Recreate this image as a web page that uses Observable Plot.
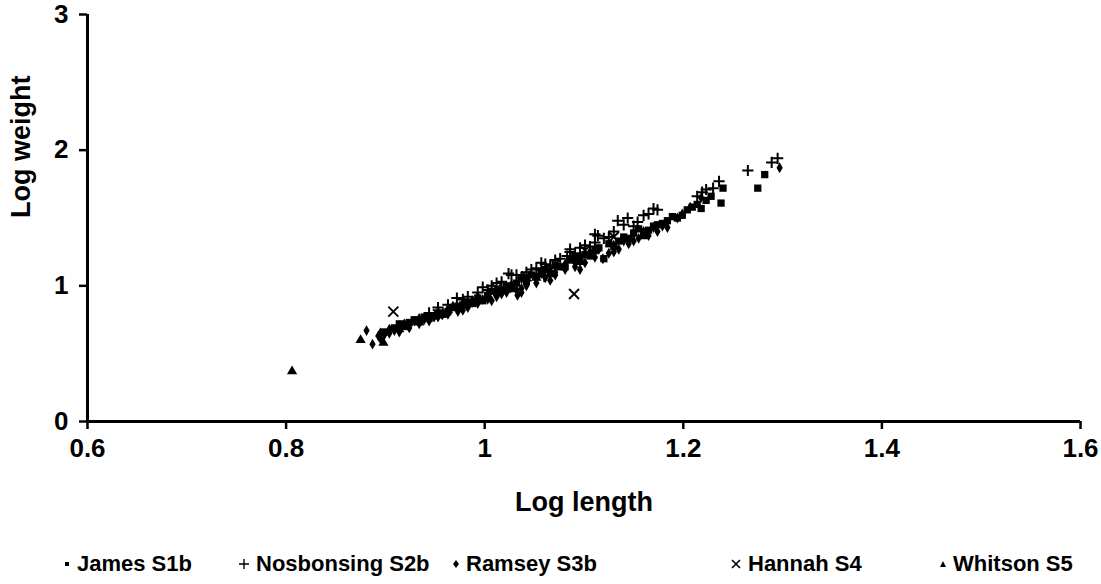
<!DOCTYPE html>
<html>
<head>
<meta charset="utf-8">
<script src="https://cdn.jsdelivr.net/npm/d3@7"></script>
<script src="https://cdn.jsdelivr.net/npm/@observablehq/plot@0.6"></script>
<style>
  html, body { margin: 0; padding: 0; background: #fff; }
  #wrap { position: relative; width: 1101px; height: 584px; font-family: "Liberation Sans", Arial, sans-serif; }
  #legend { position: absolute; left: 0; top: 540px; width: 1101px; height: 44px; }
  .item { position: absolute; top: 11px; font-size: 22px; font-weight: bold; color: #000; white-space: nowrap; display: flex; align-items: center; }
  .item svg { margin-right: 6px; }
</style>
</head>
<body>
<div id="wrap"><div id="chart"></div><div id="legend"></div></div>
<script>
// ---- data (log length, log weight) ----
const seriesNames = ["James S1b", "Nosbonsing S2b", "Ramsey S3b", "Hannah S4", "Whitson S5"];

const jamesX = [0.899,0.909,0.919,0.924,0.934,0.939,0.949,0.953,0.958,0.968,0.973,0.983,0.988,0.993,1.003,1.007,1.017,1.022,1.032,1.037,1.047,1.052,1.061,1.071,1.076,1.086,1.091,1.101,1.111,1.120,1.125,1.135,1.140,1.150,1.155,1.165,1.174,1.184,1.189,1.194,1.204,1.209,1.214,1.223,1.228,1.238,1.240,1.275,1.282,
  0.914,0.929,0.944,0.963,0.978,0.998,1.012,1.027,1.042,1.057,1.066,1.081,1.096,1.106,1.115,1.130,1.145,1.160,1.170,1.179,1.199,1.218];
const jamesY = [0.66,0.69,0.70,0.73,0.74,0.77,0.78,0.80,0.79,0.84,0.85,0.88,0.87,0.91,0.93,0.96,0.97,1.00,1.02,1.06,1.08,1.07,1.12,1.15,1.14,1.19,1.21,1.23,1.26,1.20,1.31,1.33,1.36,1.39,1.42,1.41,1.45,1.48,1.51,1.50,1.56,1.58,1.60,1.63,1.66,1.61,1.72,1.72,1.82,
  0.72,0.75,0.76,0.81,0.86,0.89,0.95,0.98,1.03,1.10,1.09,1.14,1.18,1.22,1.28,1.29,1.35,1.37,1.44,1.46,1.52,1.57];

const nosX = [0.944,0.963,0.972,0.978,0.993,1.003,1.012,1.024,1.032,1.042,1.052,1.060,1.061,1.071,1.083,1.086,1.096,1.101,1.111,1.114,1.120,1.130,1.134,1.140,1.144,1.154,1.160,1.165,1.170,1.174,1.214,1.219,1.223,1.230,1.236,1.265,1.289,1.295,
  0.953,0.983,1.007,1.017,1.037,1.047,1.066,1.076,1.091,1.106,1.125,1.150,
  0.998,1.027,1.057,1.086,1.111];
const nosY = [0.80,0.86,0.91,0.90,0.95,0.97,1.02,1.09,1.08,1.10,1.13,1.07,1.16,1.19,1.22,1.25,1.28,1.30,1.32,1.37,1.35,1.40,1.48,1.45,1.50,1.47,1.52,1.53,1.57,1.56,1.66,1.69,1.71,1.72,1.77,1.85,1.91,1.94,
  0.84,0.92,1.00,1.03,1.06,1.12,1.15,1.20,1.24,1.29,1.36,1.44,
  0.99,1.08,1.17,1.27,1.38];

const ramX = [0.881,0.887,0.893,0.899,0.904,0.909,0.914,0.919,0.924,0.929,0.934,0.939,0.944,0.949,0.953,0.958,0.963,0.968,0.973,0.978,0.983,0.988,0.993,0.998,1.003,1.012,1.017,1.022,1.027,1.033,1.037,1.042,1.052,1.057,1.066,1.071,1.081,1.091,1.096,1.106,1.115,1.119,1.130,1.140,1.150,1.160,1.170,1.179,1.194,1.199,1.207,1.218,1.297,
  0.895,0.904,0.914,0.924,0.934,0.944,0.953,0.963,0.973,0.983,0.993,1.003,1.012,1.022,1.032,1.042,1.052,1.061,1.071,1.081,1.091,1.101,1.111,1.125,1.135,1.145,1.155,1.165,1.174,1.184,
  0.978,1.007,1.037,1.066,1.096,1.130,1.150];
const ramY = [0.67,0.57,0.63,0.64,0.68,0.67,0.70,0.72,0.71,0.74,0.76,0.75,0.78,0.77,0.81,0.80,0.83,0.85,0.83,0.87,0.86,0.89,0.92,0.90,0.94,0.96,0.94,0.99,1.01,0.93,0.98,1.04,1.05,1.09,1.11,1.10,1.16,1.17,1.22,1.25,1.27,1.20,1.30,1.33,1.38,1.40,1.43,1.44,1.50,1.53,1.58,1.65,1.87,
  0.61,0.65,0.66,0.69,0.72,0.74,0.77,0.79,0.81,0.84,0.87,0.90,0.92,0.95,0.97,1.00,1.02,1.06,1.08,1.12,1.14,1.17,1.21,1.24,1.27,1.31,1.35,1.37,1.40,1.43,
  0.82,0.89,0.95,1.04,1.12,1.25,1.33];

const hanX = [0.908,1.090,0.953,0.983,1.012,1.042,1.057,1.071,1.101,1.130];
const hanY = [0.81,0.94,0.79,0.88,0.98,1.07,1.09,1.16,1.26,1.36];

const whiX = [0.806,0.875,0.898,0.895,0.914,0.934,0.963,0.993,1.022,1.052];
const whiY = [0.37,0.60,0.58,0.65,0.68,0.73,0.82,0.90,0.97,1.06];

const xTicks = [0.6, 0.8, 1, 1.2, 1.4, 1.6];
const xTickLabels = ["0.6", "0.8", "1", "1.2", "1.4", "1.6"];
const yTicks = [0, 1, 2, 3];
const yTickLabels = ["0", "1", "2", "3"];
const xTitle = "Log length";
const yTitle = "Log weight";

const toRows = (xs, ys) => xs.map((x, i) => ({x, y: ys[i]}));
const james = toRows(jamesX, jamesY);
const nos = toRows(nosX, nosY);
const ram = toRows(ramX, ramY);
const han = toRows(hanX, hanY);
const whi = toRows(whiX, whiY);

const font = "Liberation Sans, Arial, sans-serif";

const chart = Plot.plot({
  width: 1101,
  height: 540,
  marginLeft: 87,
  marginRight: 21,
  marginTop: 14,
  marginBottom: 119,
  style: {fontFamily: font, background: "#fff", color: "#000", overflow: "visible"},
  x: {domain: [0.6, 1.6], axis: null},
  y: {domain: [0, 3], axis: null},
  marks: [
    Plot.axisX({ticks: xTicks, tickFormat: d => xTickLabels[xTicks.indexOf(d)], tickSize: 8, tickPadding: 9, fontSize: 26, fontWeight: "bold", strokeWidth: 2.5, stroke: "#000", fill: "#000", label: null}),
    Plot.axisY({ticks: yTicks, tickFormat: d => yTickLabels[yTicks.indexOf(d)], tickSize: 8, tickPadding: 11, fontSize: 26, fontWeight: "bold", strokeWidth: 2.5, stroke: "#000", fill: "#000", label: null}),
    Plot.ruleY([0], {stroke: "#000", strokeWidth: 3}),
    Plot.ruleX([0.6], {stroke: "#000", strokeWidth: 3}),
    Plot.text([xTitle], {frameAnchor: "bottom", dx: 0, dy: 89, fontSize: 27, fontWeight: "bold", fill: "#000"}),
    Plot.text([yTitle], {frameAnchor: "left", dx: -66, rotate: -90, fontSize: 27, fontWeight: "bold", fill: "#000"}),
    Plot.dot(ram, {x: "x", y: "y", symbol: "diamond", r: 3.3, fill: "#000", stroke: "none"}),
    Plot.dot(james, {x: "x", y: "y", symbol: "square", r: 4.1, fill: "#000", stroke: "none"}),
    Plot.dot(whi, {x: "x", y: "y", symbol: "triangle", r: 3.8, fill: "#000", stroke: "none"}),
    Plot.dot(nos, {x: "x", y: "y", symbol: "plus", r: 3.7, stroke: "#000", strokeWidth: 2, fill: "none"}),
    Plot.dot(han, {x: "x", y: "y", symbol: "times", r: 4.6, stroke: "#000", strokeWidth: 1.9, fill: "none"})
  ]
});
document.getElementById("chart").appendChild(chart);

// ---- legend ----
const legendSymbols = [
  '<svg width="8" height="8"><rect x="2" y="2" width="4" height="4" fill="#000"/></svg>',
  '<svg width="12" height="12"><path d="M1,6H11M6,1V11" stroke="#000" stroke-width="1.4"/></svg>',
  '<svg width="8" height="10"><path d="M4,1L7,5L4,9L1,5Z" fill="#000"/></svg>',
  '<svg width="12" height="12"><path d="M2,2L10,10M10,2L2,10" stroke="#000" stroke-width="1.6"/></svg>',
  '<svg width="8" height="8"><path d="M4,1L7,7H1Z" fill="#000"/></svg>'
];
const legendLeft = [63, 238, 452, 730, 939];
const legend = document.getElementById("legend");
seriesNames.forEach((name, i) => {
  const d = document.createElement("div");
  d.className = "item";
  d.style.left = legendLeft[i] + "px";
  d.innerHTML = legendSymbols[i] + "<span>" + name + "</span>";
  legend.appendChild(d);
});
</script>
</body>
</html>
